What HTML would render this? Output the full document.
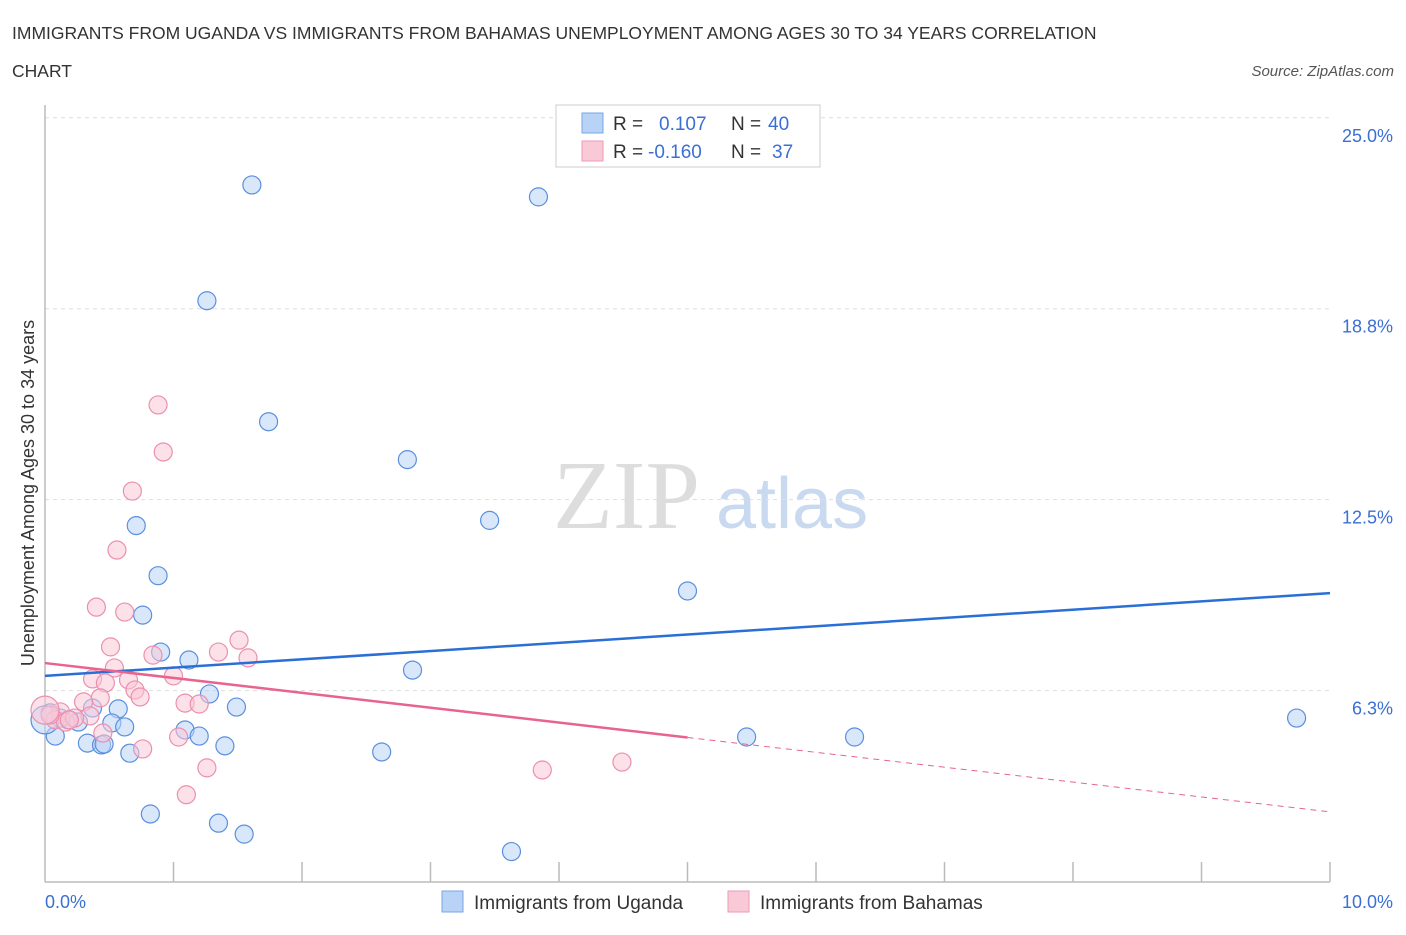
<!DOCTYPE html>
<html><head><meta charset="utf-8"><style>
body{margin:0;background:#fff;font-family:"Liberation Sans",sans-serif;}
</style></head><body>
<svg width="1406" height="930" xmlns="http://www.w3.org/2000/svg" style="font-family:'Liberation Sans',sans-serif">
<text x="12" y="39" font-size="17.5" fill="#333">IMMIGRANTS FROM UGANDA VS IMMIGRANTS FROM BAHAMAS UNEMPLOYMENT AMONG AGES 30 TO 34 YEARS CORRELATION</text>
<text x="12" y="77" font-size="17.5" fill="#333">CHART</text>
<text x="1394" y="76" font-size="15" font-style="italic" fill="#555" text-anchor="end">Source: ZipAtlas.com</text>
<g>
<text x="553" y="528" font-size="98" font-family="'Liberation Serif',serif" fill="#ddd">ZIP</text>
<text x="716" y="528" font-size="72" fill="#c9d9f0">atlas</text>
</g>
<g id="grid"></g>
<line x1="45" y1="105" x2="45" y2="882" stroke="#bbb" stroke-width="1.5"/>
<line x1="45" y1="882" x2="1330" y2="882" stroke="#bbb" stroke-width="1.5"/>
<g id="xticks"></g>
<g id="ylabels"></g>
<text x="45" y="908" font-size="18" fill="#3b6fd4">0.0%</text>
<text x="1393" y="908" font-size="18" fill="#3b6fd4" text-anchor="end">10.0%</text>
<text transform="translate(34,493) rotate(-90)" font-size="18" fill="#333" text-anchor="middle">Unemployment Among Ages 30 to 34 years</text>
<g id="pts"></g>
<g id="lines"></g>
<g>
<rect x="556" y="105" width="264" height="62" fill="#fff" stroke="#ccc"/>
<rect x="582" y="113" width="21" height="20" fill="#b8d3f5" stroke="#7aa6e6"/>
<text x="613" y="130" font-size="19" fill="#333">R = </text><text x="659" y="130" font-size="19" fill="#3b6fd4">0.107</text>
<text x="731" y="130" font-size="19" fill="#333">N = </text><text x="768" y="130" font-size="19" fill="#3b6fd4">40</text>
<rect x="582" y="141" width="21" height="20" fill="#f9c9d7" stroke="#ee9ab4"/>
<text x="613" y="158" font-size="19" fill="#333">R = </text><text x="648" y="158" font-size="19" fill="#3b6fd4">-0.160</text>
<text x="731" y="158" font-size="19" fill="#333">N = </text><text x="772" y="158" font-size="19" fill="#3b6fd4">37</text>
</g>
<g>
<rect x="442" y="891" width="21" height="21" fill="#b8d3f5" stroke="#7aa6e6"/>
<text x="474" y="909" font-size="19" fill="#333">Immigrants from Uganda</text>
<rect x="728" y="891" width="21" height="21" fill="#f9c9d7" stroke="#ee9ab4"/>
<text x="760" y="909" font-size="19" fill="#333">Immigrants from Bahamas</text>
</g>
</svg>
<script>
const yTicks=[6.25,12.5,18.75,25];
const yTickLabels=["6.3%","12.5%","18.8%","25.0%"];
const xTickCount=10;
const ugandaX=[1.61,3.84,1.26,1.74,2.82,3.46,0.71,0.88,0.76,5.00,0.90,1.12,2.86,1.28,1.49,0.57,0.37,0.52,0.62,1.09,1.20,0.08,0.33,0.44,0.46,0.66,1.40,2.62,5.46,6.30,9.74,0.82,1.35,1.55,3.63,0.18,0.12,0.04,0.26,0.00];
const ugandaY=[22.80,22.41,19.01,15.05,13.81,11.82,11.65,10.01,8.72,9.51,7.51,7.25,6.92,6.14,5.71,5.65,5.68,5.19,5.06,4.96,4.76,4.76,4.53,4.47,4.50,4.20,4.44,4.24,4.73,4.73,5.35,2.21,1.91,1.55,0.98,5.29,5.35,5.52,5.22,5.29];
const bahamasX=[0.88,0.92,0.68,0.56,0.40,0.62,1.51,0.51,0.84,1.35,1.58,0.54,1.00,0.37,0.47,0.65,0.70,0.74,0.43,0.30,1.09,1.20,0.35,0.12,0.08,0.16,0.23,0.04,0.45,1.04,0.76,1.26,1.10,3.87,4.49,0.00,0.19];
const bahamasY=[15.60,14.06,12.78,10.85,8.98,8.82,7.90,7.68,7.41,7.51,7.32,6.99,6.73,6.63,6.50,6.60,6.27,6.04,6.01,5.88,5.84,5.81,5.42,5.55,5.29,5.22,5.35,5.45,4.86,4.73,4.34,3.72,2.84,3.65,3.91,5.61,5.29];
const ugandaTrend=[6.73,9.44];
const bahamasTrend=[7.15,2.28];
const bahamasSolidEnd=5.0;
const NS="http://www.w3.org/2000/svg";
const xs=v=>45+v*128.5, ys=v=>881.5-v*30.55;
function mk(t,a,p){const e=document.createElementNS(NS,t);for(const k in a)e.setAttribute(k,a[k]);p.appendChild(e);return e;}
const grid=document.getElementById('grid'),yl=document.getElementById('ylabels');
yTicks.forEach((t,i)=>{
 const l=mk('line',{x1:45,x2:1330,y1:ys(t),y2:ys(t),stroke:'#ddd','stroke-dasharray':'4,4'},grid);
 
 
 const tx=mk('text',{x:1393,y:ys(t)+24,'font-size':18,fill:'#3b6fd4','text-anchor':'end'},yl);
 tx.textContent=yTickLabels[i];
 
 
});
const xt=document.getElementById('xticks');
for(let i=1;i<=xTickCount;i++){
 const l=mk('line',{x1:xs(i),x2:xs(i),y1:862,y2:882,stroke:'#bbb','stroke-width':1.5},xt);
 
 
}
const pts=document.getElementById('pts');
function draw(X,Y,fill,stroke,name){
 X.forEach((x,i)=>{
  const r=(x===0)?14:9;
  const c=mk('circle',{cx:xs(x),cy:ys(Y[i]),r:r,fill:fill,'fill-opacity':0.55,stroke:stroke,'stroke-width':1.2},pts);
  
  
 });
}
draw(ugandaX,ugandaY,'#b8d3f5','#5b8fde','point-uganda');
draw(bahamasX,bahamasY,'#f9c9d7','#ec8fae','point-bahamas');
const ln=document.getElementById('lines');
const b=mk('line',{x1:xs(0),y1:ys(ugandaTrend[0]),x2:xs(10),y2:ys(ugandaTrend[1]),stroke:'#2a6fd6','stroke-width':2.5},ln);


const pm=bahamasTrend[0]+(bahamasTrend[1]-bahamasTrend[0])*bahamasSolidEnd/10;
const p1=mk('line',{x1:xs(0),y1:ys(bahamasTrend[0]),x2:xs(bahamasSolidEnd),y2:ys(pm),stroke:'#e8638e','stroke-width':2.5},ln);


const p2=mk('line',{x1:xs(bahamasSolidEnd),y1:ys(pm),x2:xs(10),y2:ys(bahamasTrend[1]),stroke:'#e8638e','stroke-width':1,'stroke-dasharray':'6,5'},ln);


</script>
</body></html>
